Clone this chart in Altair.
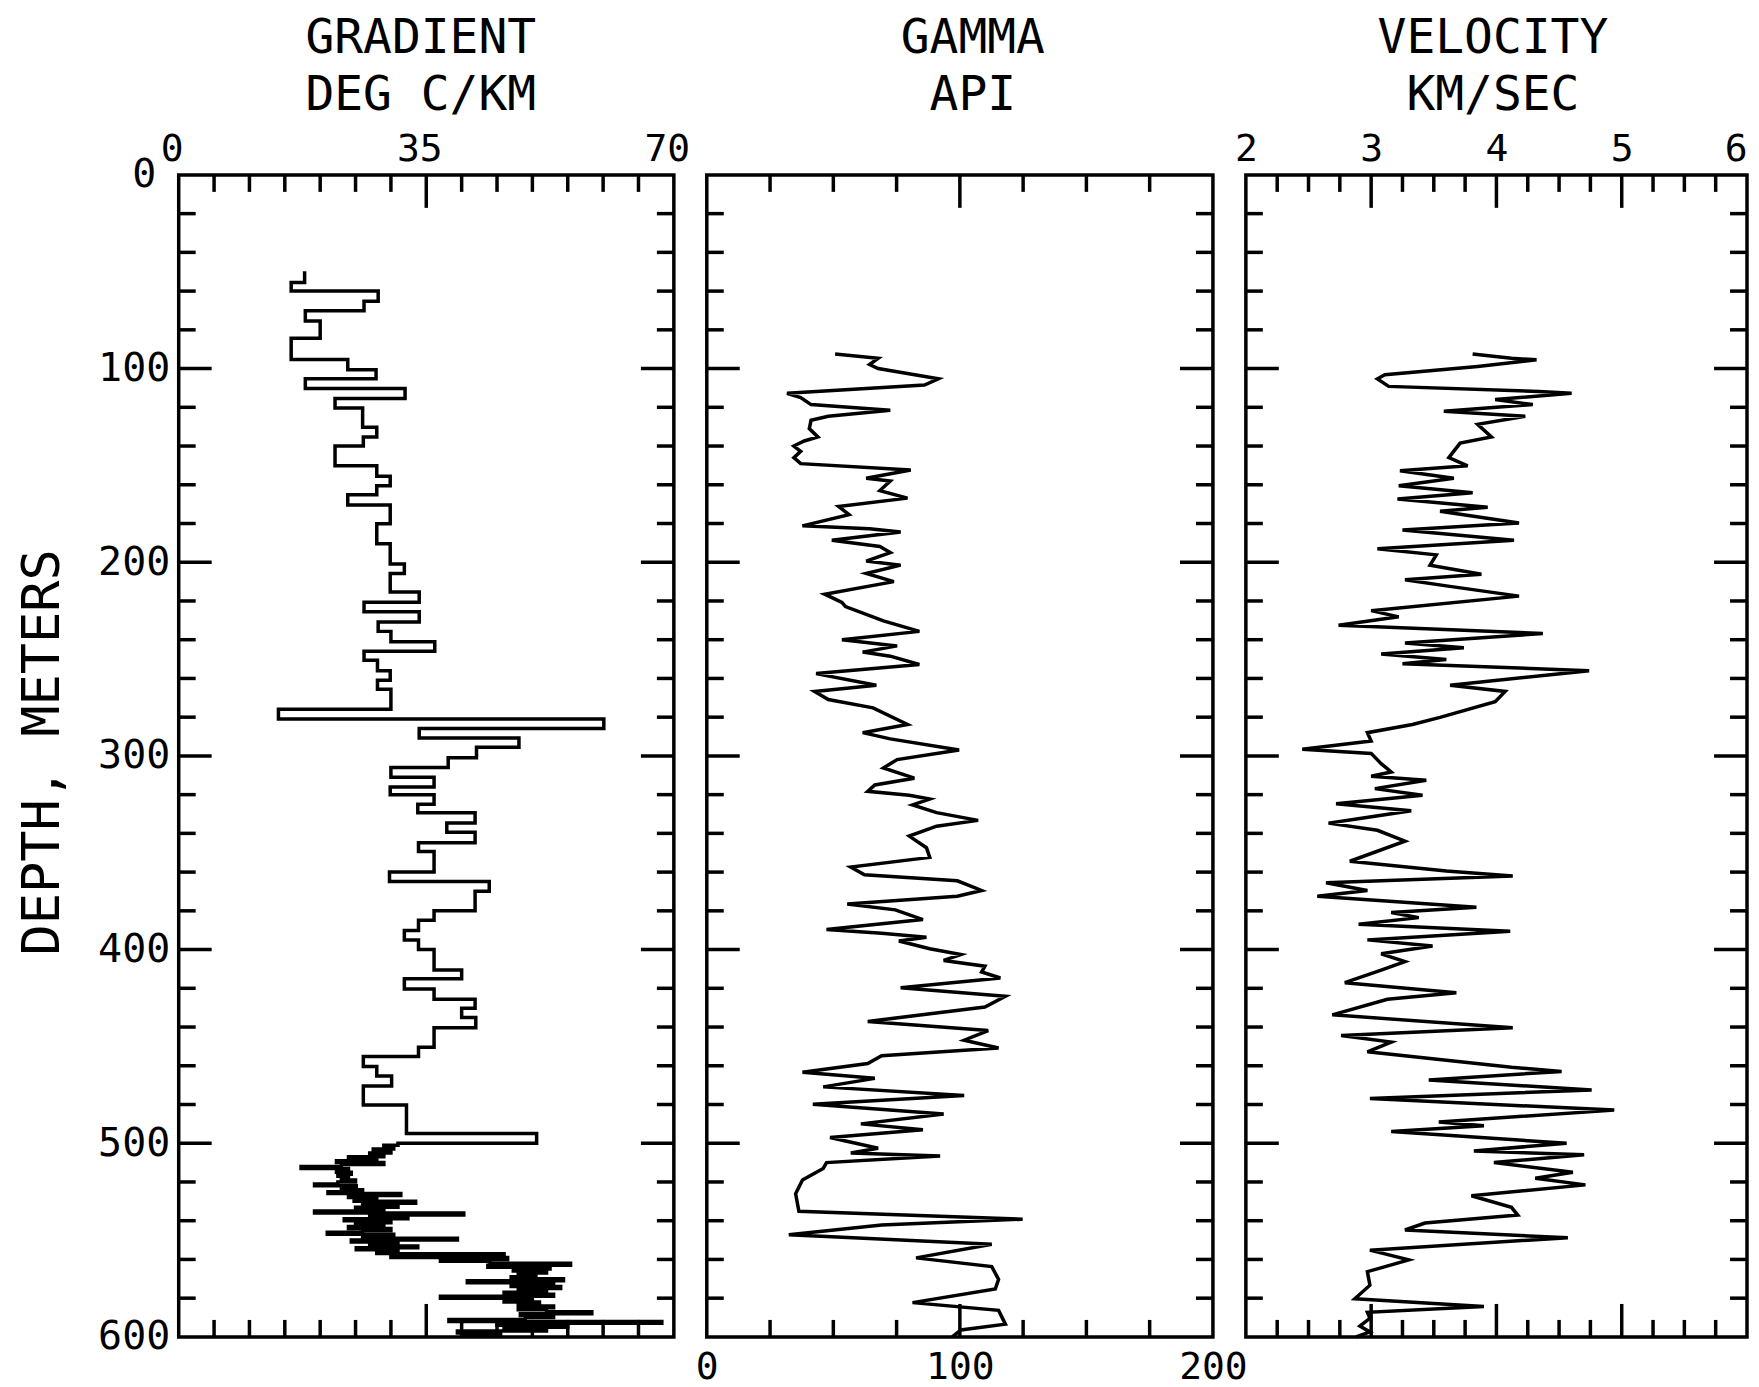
import altair as alt
import pandas as pd

FONT = "DejaVu Sans Mono"
H = 1164
W1, W2, W3 = 496, 507, 502
SHORT, LONG = 17, 33
LW = 3.5

# ---------------- tick / label arrays ----------------
depth_labels = [0, 100, 200, 300, 400, 500, 600]
depth_minor = [20, 40, 60, 80, 120, 140, 160, 180, 220, 240, 260, 280,
               320, 340, 360, 380, 420, 440, 460, 480, 520, 540, 560, 580]
depth_major = [100, 200, 300, 400, 500]

grad_labels = [0, 35, 70]
grad_minor = [5, 10, 15, 20, 25, 30, 40, 45, 50, 55, 60, 65]
grad_major = [35]

gamma_labels = [0, 100, 200]
gamma_minor = [25, 50, 75, 125, 150, 175]
gamma_major = [100]

vel_labels = [2, 3, 4, 5, 6]
vel_minor = [2.25, 2.5, 2.75, 3.25, 3.5, 3.75, 4.25, 4.5, 4.75, 5.25, 5.5, 5.75]
vel_major = [3, 4, 5]

# ---------------- data (depth m, value) ----------------
# gradient: step log, (top depth of interval, gradient deg C/km)
gradient = [
    (49.8, 17.8), (55.6, 15.9), (60.0, 28.2), (65.2, 26.2), (70.1, 17.9), (75.4, 20.0),
    (84.4, 15.9), (95.3, 23.9), (100.6, 27.9), (105.3, 17.9), (110.3, 32.0), (115.4, 22.1),
    (120.3, 26.0), (130.3, 28.0), (135.3, 26.1), (140.0, 22.1), (150.2, 28.0), (155.6, 29.9),
    (160.5, 28.0), (165.2, 23.9), (170.5, 29.9), (180.1, 28.0), (190.4, 29.9), (200.9, 31.9),
    (205.8, 29.9), (215.4, 34.0), (220.7, 26.2), (225.6, 34.0), (230.8, 28.2), (235.7, 30.0),
    (241.0, 36.2), (245.9, 26.2), (250.6, 28.1), (256.0, 29.9), (260.9, 28.1), (265.6, 30.0),
    (275.9, 14.1), (281.0, 60.1), (285.9, 34.0), (290.8, 48.1), (295.5, 42.1), (300.9, 38.1),
    (306.0, 30.0), (311.0, 36.1), (316.0, 29.9), (320.0, 36.1), (325.0, 33.8), (329.3, 41.9),
    (334.7, 37.9), (339.4, 41.9), (344.8, 33.9), (349.4, 36.1), (360.0, 29.8), (364.9, 43.9),
    (369.9, 41.9), (379.9, 36.1), (384.9, 33.9), (390.2, 31.9), (395.0, 33.9), (400.0, 36.1),
    (410.6, 40.0), (415.1, 31.9), (420.3, 36.1), (425.7, 41.9), (430.3, 40.0), (435.1, 42.0),
    (440.4, 36.1), (450.4, 33.9), (455.2, 26.1), (460.4, 28.0), (465.3, 30.1), (470.5, 26.1),
    (480.3, 32.2), (495.0, 50.6),
    (500, 31.0), (501, 29.0), (502, 30.4), (503, 27.5), (504, 30.0), (505, 27.0), (506, 29.0),
    (507, 24.0), (508, 28.0), (509, 22.3), (510, 29.0), (511, 23.0), (512, 17.3), (513, 24.0),
    (514, 22.3), (515, 24.4), (516, 22.5), (517, 24.0), (518, 23.0), (519, 25.0), (520, 22.5),
    (521, 19.2), (522, 25.1), (523, 23.0), (524, 26.0), (525, 21.1), (526, 31.4), (527, 24.0),
    (528, 28.0), (529, 24.8), (530, 33.5), (531, 26.0), (532, 31.0), (533, 25.0), (534, 29.0),
    (535, 19.2), (536, 40.3), (537, 27.0), (538, 32.4), (539, 23.4), (540, 30.0), (541, 25.0),
    (542, 29.0), (543, 24.0), (544, 30.0), (545, 26.0), (546, 21.0), (547, 30.4), (548, 26.0),
    (549, 39.4), (550, 24.4), (551, 31.0), (552, 27.0), (553, 33.8), (554, 25.1), (555, 31.0),
    (556, 28.0), (557, 46.0), (558, 30.0), (559, 46.5), (560, 37.0), (561, 44.0), (562, 55.4),
    (563, 43.7), (564, 52.5), (565, 47.3), (566, 52.0), (567, 48.0), (568, 50.5), (569, 47.0),
    (570, 54.4), (571, 40.8), (572, 53.0), (573, 47.0), (574, 54.0), (575, 48.0), (576, 52.0),
    (577, 46.0), (578, 53.0), (579, 37.0), (580, 50.0), (581, 46.0), (582, 51.0), (583, 48.0),
    (584, 53.0), (585, 48.0), (586, 52.0), (587, 58.4), (588, 48.3), (589, 53.0), (590, 49.0),
    (591, 38.2), (592, 68.3), (593, 45.0), (594, 55.0), (595, 46.0), (596, 52.0), (597, 39.4),
    (598, 45.5), (599, 40.0), (600, 40.0),
]

gamma = [
    (92.5, 50.7), (94.7, 67.7), (97.9, 64.3), (100.0, 67.7), (105.3, 91.5), (108.5, 86.0),
    (112.8, 31.7), (115.0, 37.1), (118.6, 41.2), (121.5, 72.5), (124.6, 48.0), (126.7, 41.2),
    (131.0, 40.5), (135.3, 43.9), (137.4, 38.5), (140.0, 34.4), (142.7, 37.1), (146.0, 34.4),
    (149.1, 37.1), (152.4, 80.6), (156.6, 63.0), (158.1, 72.5), (163.0, 68.4), (166.9, 79.3),
    (171.2, 52.1), (175.4, 56.2), (181.2, 37.8), (182.7, 64.3), (184.4, 76.6), (188.7, 49.4),
    (191.9, 68.4), (195.0, 72.5), (199.4, 63.0), (201.5, 76.6), (205.8, 63.0), (210.0, 73.9),
    (216.5, 46.6), (220.7, 53.4), (222.9, 54.8), (230.3, 69.8), (235.7, 84.0), (240.0, 53.4),
    (243.2, 75.2), (246.4, 61.6), (248.5, 72.5), (252.8, 84.0), (257.5, 43.2), (263.5, 67.0),
    (266.7, 42.6), (270.9, 48.0), (275.2, 65.7), (283.8, 79.3), (288.0, 61.6), (291.2, 72.5),
    (297.0, 99.7), (301.9, 75.2), (306.2, 69.8), (311.5, 82.0), (315.0, 66.4), (318.3, 63.6),
    (320.3, 80.0), (322.3, 88.1), (325.3, 81.3), (329.3, 90.8), (333.3, 107.2), (336.3, 90.8),
    (341.4, 80.0), (347.4, 86.8), (352.4, 88.1), (357.4, 56.9), (361.4, 62.3), (364.5, 99.0),
    (369.5, 108.6), (372.5, 99.0), (376.5, 55.5), (379.5, 74.5), (384.5, 85.4), (389.6, 47.3),
    (391.6, 69.1), (393.6, 86.8), (395.6, 75.9), (399.6, 88.1), (402.6, 100.4), (405.6, 93.6),
    (408.6, 109.9), (411.6, 108.6), (414.7, 116.0), (419.7, 76.6), (424.1, 118.0), (429.7, 109.9),
    (437.1, 63.6), (441.8, 111.2), (446.8, 101.7), (450.8, 115.3), (454.8, 69.1), (458.8, 63.6),
    (463.3, 37.8), (466.5, 66.4), (470.9, 46.0), (475.3, 101.7), (479.9, 41.9), (484.9, 93.6),
    (490.0, 60.9), (493.0, 85.4), (497.0, 48.7), (502.6, 67.7), (505.0, 56.9), (506.6, 92.2),
    (510.0, 47.3), (513.0, 46.0), (519.0, 37.8), (526.1, 35.1), (535.1, 36.4), (539.2, 124.8),
    (542.2, 69.1), (547.2, 32.4), (552.2, 112.6), (559.2, 82.7), (563.7, 112.6), (570.3, 115.3),
    (575.3, 114.0), (582.3, 81.3), (586.3, 115.3), (593.4, 118.0), (596.4, 100.4), (600.0, 97.0),
]

velocity = [
    (92.5, 3.81), (94.7, 4.12), (95.5, 4.32), (98.9, 3.85), (103.2, 3.11), (105.3, 3.05),
    (109.2, 3.14), (111.8, 4.34), (112.8, 4.60), (116.0, 3.99), (118.6, 4.29), (122.0, 3.58),
    (124.6, 4.23), (128.8, 3.85), (135.3, 3.96), (138.5, 3.71), (146.0, 3.62), (150.2, 3.77),
    (152.8, 3.23), (156.6, 3.66), (160.5, 3.22), (164.1, 3.81), (167.3, 3.21), (171.6, 3.93),
    (173.7, 3.55), (179.7, 4.18), (183.3, 3.25), (188.7, 4.14), (193.0, 3.05), (196.2, 3.52),
    (201.5, 3.47), (206.2, 3.88), (209.0, 3.27), (212.2, 3.60), (217.5, 4.18), (225.0, 3.00),
    (228.2, 3.22), (232.5, 2.74), (236.8, 4.37), (241.7, 3.27), (244.2, 3.74), (247.4, 3.08),
    (250.2, 3.60), (252.4, 3.25), (256.0, 4.74), (263.5, 3.63), (266.7, 4.07), (272.0, 3.99),
    (280.1, 3.55), (283.8, 3.33), (288.0, 2.97), (292.3, 3.00), (296.6, 2.45), (298.7, 3.00),
    (304.0, 3.08), (308.3, 3.16), (310.5, 3.00), (312.6, 3.44), (316.9, 3.03), (320.3, 3.41),
    (324.7, 2.72), (328.3, 3.32), (332.3, 2.91), (334.7, 2.66), (338.4, 3.05), (344.0, 3.27),
    (354.4, 2.83), (359.4, 3.60), (362.0, 4.13), (365.5, 2.64), (369.5, 2.97), (372.5, 2.57),
    (378.1, 3.84), (380.9, 3.16), (383.5, 3.38), (386.9, 2.90), (390.6, 4.11), (395.0, 2.97),
    (398.2, 3.49), (402.2, 3.08), (406.2, 3.27), (410.6, 3.08), (417.1, 2.79), (422.3, 3.68),
    (425.7, 3.13), (433.7, 2.69), (440.4, 4.13), (444.4, 2.76), (447.8, 3.16), (452.8, 2.97),
    (460.8, 4.12), (462.9, 4.52), (467.3, 3.46), (472.5, 4.76), (476.9, 2.99), (482.9, 4.94),
    (489.0, 3.54), (491.0, 3.90), (494.0, 3.16), (500.0, 4.56), (504.0, 3.82), (506.0, 4.70),
    (510.0, 3.98), (515.0, 4.61), (518.1, 4.31), (521.5, 4.71), (527.1, 3.80), (533.1, 4.12),
    (537.1, 4.17), (541.2, 3.43), (544.8, 3.27), (548.8, 4.57), (555.2, 2.99), (560.2, 3.30),
    (566.3, 2.97), (573.3, 2.99), (580.3, 2.87), (584.3, 3.90), (587.3, 2.97), (590.4, 2.99),
    (594.4, 2.91), (597.4, 2.99), (600.0, 2.88),
]

# ---------------- helpers ----------------
ysc = alt.Scale(domain=[0, 600], reverse=True, nice=False, zero=False)


def frame_ticks(xminor, xmajor, xsc, width, bottom_axis=None):
    layers = []
    for vals, L in ((depth_minor, SHORT), (depth_major, LONG)):
        base = alt.Chart(pd.DataFrame({"d": vals})).mark_rule(color="black", strokeWidth=LW)
        layers.append(base.encode(y=alt.Y("d:Q", scale=ysc, axis=None),
                                  x=alt.value(0), x2=alt.value(L)))
        layers.append(base.encode(y=alt.Y("d:Q", scale=ysc, axis=None),
                                  x=alt.value(width), x2=alt.value(width - L)))
    for vals, L in ((xminor, SHORT), (xmajor, LONG)):
        base = alt.Chart(pd.DataFrame({"v": vals})).mark_rule(color="black", strokeWidth=LW)
        layers.append(base.encode(x=alt.X("v:Q", scale=xsc, axis=None),
                                  y=alt.value(0), y2=alt.value(L)))
        ax = bottom_axis if (bottom_axis is not None and L == LONG) else None
        layers.append(base.encode(x=alt.X("v:Q", scale=xsc, axis=ax),
                                  y=alt.value(H), y2=alt.value(H - L)))
    return layers


def top_axis(title, labels, title_x, show_labels=True, **kw):
    return alt.Axis(
        orient="top", values=labels, format="d", ticks=False, tickSize=0, domain=False,
        grid=False, labels=show_labels, labelFlush=False,
        labelFont=FONT, labelFontSize=38, labelColor="black", labelPadding=6,
        title=title, titleFont=FONT, titleFontSize=48, titleFontWeight="normal",
        titleColor="black", titleY=-123, titleX=title_x, titleBaseline="alphabetic",
        titleAlign="center", titleLineHeight=57, **kw)


# ---------------- panel 1: gradient ----------------
gsc = alt.Scale(domain=[0, 70], nice=False, zero=False)
gdf = pd.DataFrame(gradient, columns=["depth", "gradient"])
depth_axis = alt.Axis(
    orient="left", values=depth_labels, format="d", ticks=False, tickSize=0, domain=False,
    grid=False, labelFont=FONT, labelFontSize=40, labelColor="black", labelFlush=False,
    labelPadding={"condition": {"test": "datum.value === 0", "value": 23}, "value": 9},
    title="DEPTH, METERS", titleFont=FONT, titleFontSize=52, titleFontWeight="normal",
    titleColor="black", titleAngle=270, titleX=-120, titleY=578,
    titleAlign="center", titleBaseline="alphabetic")
g_line = alt.Chart(gdf).mark_line(color="black", strokeWidth=LW, interpolate="step-before").encode(
    x=alt.X("gradient:Q", scale=gsc,
            axis=top_axis(["GRADIENT", "DEG C/KM"], grad_labels, 242, labelOffset=-7)),
    y=alt.Y("depth:Q", scale=ysc, axis=depth_axis),
    order=alt.Order("depth:Q"),
)
p1 = alt.layer(g_line, *frame_ticks(grad_minor, grad_major, gsc, W1)
               ).resolve_axis(x="independent", y="independent").properties(width=W1, height=H)

# ---------------- panel 2: gamma ----------------
gmsc = alt.Scale(domain=[0, 200], nice=False, zero=False)
gmdf = pd.DataFrame(gamma, columns=["depth", "gamma"])
gm_bottom = alt.Axis(
    orient="bottom", values=gamma_labels, format="d", ticks=False, tickSize=0, domain=False,
    grid=False, labelFont=FONT, labelFontSize=38, labelColor="black", labelPadding=42,
    labelBaseline="alphabetic", labelFlush=False, title=None)
gm_line = alt.Chart(gmdf).mark_line(color="black", strokeWidth=LW).encode(
    x=alt.X("gamma:Q", scale=gmsc,
            axis=top_axis(["GAMMA", "API"], gamma_labels, 266, show_labels=False)),
    y=alt.Y("depth:Q", scale=ysc, axis=None),
    order=alt.Order("depth:Q"),
)
p2 = alt.layer(gm_line, *frame_ticks(gamma_minor, gamma_major, gmsc, W2, bottom_axis=gm_bottom)
               ).resolve_axis(x="independent", y="independent").properties(width=W2, height=H)

# ---------------- panel 3: velocity ----------------
vsc = alt.Scale(domain=[2, 6], nice=False, zero=False)
vdf = pd.DataFrame(velocity, columns=["depth", "velocity"])
v_line = alt.Chart(vdf).mark_line(color="black", strokeWidth=LW).encode(
    x=alt.X("velocity:Q", scale=vsc,
            axis=top_axis(["VELOCITY", "KM/SEC"], vel_labels, 247,
                          labelAlign={"condition": {"test": "datum.value === 6", "value": "right"},
                                      "value": "center"})),
    y=alt.Y("depth:Q", scale=ysc, axis=None),
    order=alt.Order("depth:Q"),
)
p3 = alt.layer(v_line, *frame_ticks(vel_minor, vel_major, vsc, W3)
               ).resolve_axis(x="independent", y="independent").properties(width=W3, height=H)

chart = alt.hconcat(p1, p2, p3, spacing=33, bounds="flush").properties(
    padding={"left": 7, "top": 3, "right": 0, "bottom": 0},
    background="white",
).configure_view(stroke="black", strokeWidth=3.5)

chart.save("out.html", embed_options={"renderer": "svg", "actions": False})
